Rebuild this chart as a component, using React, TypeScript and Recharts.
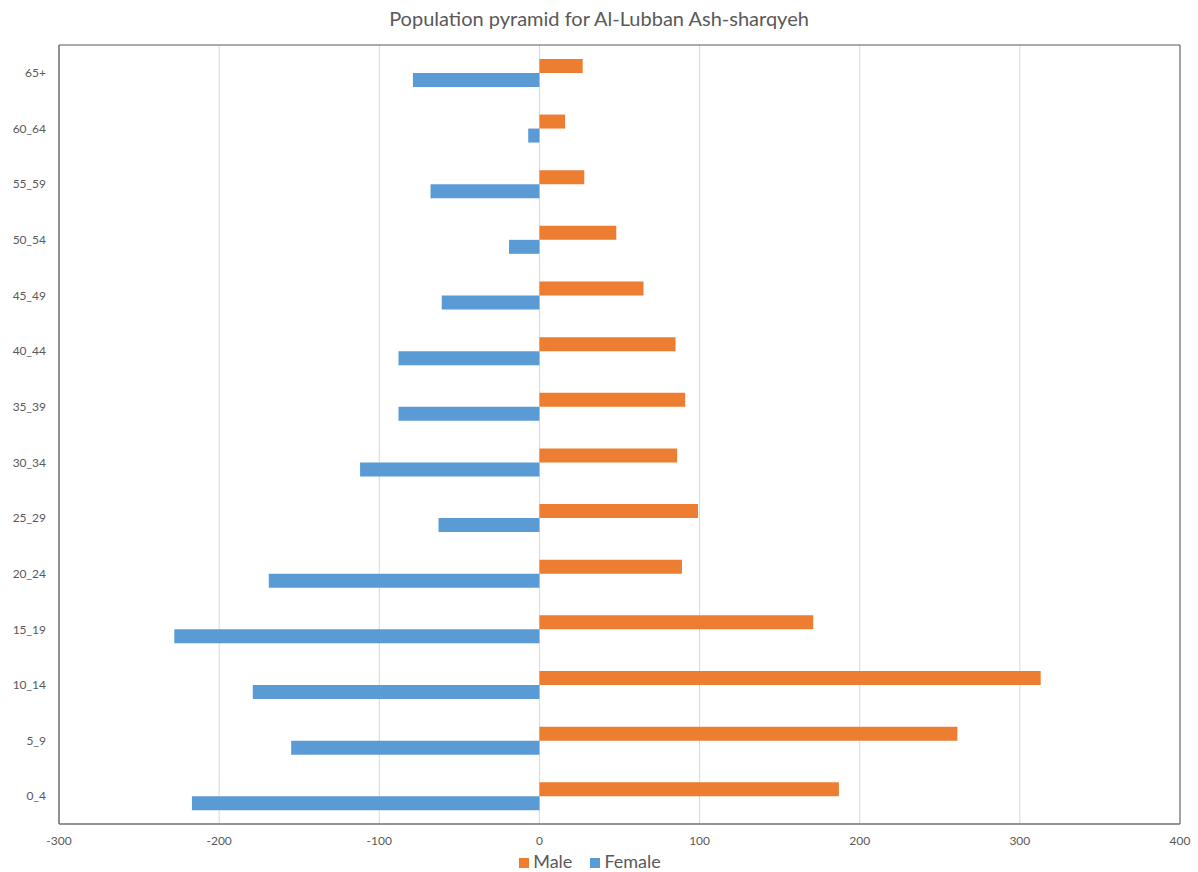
import { BarChart, Bar, XAxis, YAxis, CartesianGrid, Legend, ReferenceArea } from 'recharts';

const ageGroups = ['0_4', '5_9', '10_14', '15_19', '20_24', '25_29', '30_34', '35_39', '40_44', '45_49', '50_54', '55_59', '60_64', '65+'];
const maleCounts = [187, 261, 313, 171, 89, 99, 86, 91, 85, 65, 48, 28, 16, 27];
const femaleCounts = [-217, -155, -179, -228, -169, -63, -112, -88, -88, -61, -19, -68, -7, -79];
const xTicks = [-300, -200, -100, 0, 100, 200, 300, 400];
const seriesOrder = ['Male', 'Female'];

const data = ageGroups.map((age, i) => ({
  age,
  male: maleCounts[i],
  female: femaleCounts[i],
}));

const font = 'Lato, "Open Sans", sans-serif';
const textColor = '#595959';

export default function App() {
  return (
    <div style={{ position: 'absolute', left: 0, top: 0, width: 1198, height: 872, background: '#fff', fontFamily: font }}>
      <div
        style={{
          position: 'absolute',
          top: 6,
          left: 0,
          width: 1198,
          textAlign: 'center',
          fontSize: 20,
          color: textColor,
        }}
      >
        Population pyramid for Al-Lubban Ash-sharqyeh
      </div>
      <BarChart
        width={1198}
        height={872}
        data={data}
        layout="vertical"
        margin={{ top: 45, right: 18, bottom: 24, left: 0 }}
        barCategoryGap="25%"
        barGap={0}
      >
        <CartesianGrid horizontal={false} stroke="#d9d9d9" />
        <XAxis
          type="number"
          domain={[-300, 400]}
          ticks={xTicks}
          interval={0}
          height={24}
          tickLine={false}
          tickSize={0}
          tickMargin={12}
          axisLine={{ stroke: '#7f7f7f' }}
          tick={{ fill: textColor, fontSize: 12, fontFamily: font }}
        />
        <YAxis
          type="category"
          dataKey="age"
          reversed
          width={59}
          tickLine={false}
          tickSize={0}
          tickMargin={13}
          axisLine={{ stroke: '#7f7f7f' }}
          tick={{ fill: textColor, fontSize: 12, fontFamily: font }}
        />
        <ReferenceArea x1={-300} x2={400} fill="none" stroke="#595959" strokeWidth={1} ifOverflow="visible" />
        <Bar dataKey="male" name="Male" fill="#ED7D31" isAnimationActive={false} />
        <Bar dataKey="female" name="Female" fill="#5B9BD5" isAnimationActive={false} />
        <Legend
          layout="horizontal"
          verticalAlign="middle"
          align="center"
          iconType="square"
          iconSize={10}
          itemSorter={(item: any) => seriesOrder.indexOf(item.value)}
          wrapperStyle={{ top: 850, left: 0, width: 1198, fontSize: 18, fontFamily: font, lineHeight: '22px' }}
          formatter={(value) => <span style={{ color: textColor, marginRight: 8 }}>{value}</span>}
        />
      </BarChart>
    </div>
  );
}
